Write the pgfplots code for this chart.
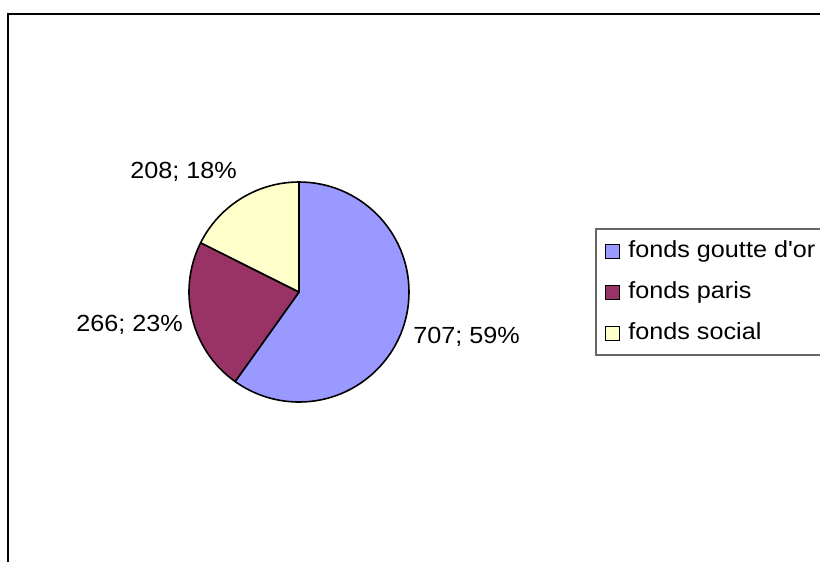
\documentclass[border=0pt]{standalone}
\usepackage{fontspec}
\usepackage{pgfplots}
\usepackage{pgfplotstable}
\pgfplotsset{compat=1.18}
\newfontfamily\arialx{Liberation Sans}[FakeStretch=1.08, Ligatures=TeXOff]
\newcommand\chartfont{\arialx\fontsize{17.5}{20}\selectfont}
\definecolor{GoutteBlue}{HTML}{9999FF}
\definecolor{ParisPlum}{HTML}{993366}
\definecolor{SocialCream}{HTML}{FFFFCC}

\pgfplotstableread[col sep=comma]{
name,value
fonds goutte d'or,707
fonds paris,266
fonds social,208
}\pietable

% one slice: start angle, end angle, colour
\newcommand\pieslice[3]{%
  \filldraw[fill=#3, draw=black, line width=1.2pt, line join=round]
    (axis cs:299,292) -- ++(#1:82.5pt) arc[start angle=#1, end angle=#2, radius=82.5pt] -- cycle;}

\begin{document}
\pgfplotstablegetelem{0}{value}\of\pietable \pgfmathsetmacro\va{\pgfplotsretval}%
\pgfplotstablegetelem{1}{value}\of\pietable \pgfmathsetmacro\vb{\pgfplotsretval}%
\pgfplotstablegetelem{2}{value}\of\pietable \pgfmathsetmacro\vc{\pgfplotsretval}%
\pgfmathsetmacro\tot{\va+\vb+\vc}%
\pgfmathsetmacro\aA{90}%
\pgfmathsetmacro\aB{\aA-360*(\va/\tot)}%
\pgfmathsetmacro\aC{\aB-360*(\vb/\tot)}%
\pgfmathsetmacro\aD{\aC-360*(\vc/\tot)}%
\raisebox{0pt}[421.5pt][0pt]{%
\begin{tikzpicture}[baseline=0pt, trim left=0pt, trim right=615pt]
\begin{axis}[
    x=0.75pt, y=0.75pt, y dir=reverse,
    xmin=0, xmax=820, ymin=0, ymax=562,
    at={(307.5pt,210.75pt)}, anchor=center,
    xtick=\empty, ytick=\empty,
    hide axis, clip=false,
    legend image code/.code={\draw[#1] (0pt,-5.25pt) rectangle (10.5pt,5.25pt);},
    legend style={
        at={(axis cs:605,229)}, anchor=north west,
        draw=none, fill=none,
        font=\chartfont,
        inner xsep=0pt, inner ysep=8.25pt,
        row sep=14.25pt,
        nodes={inner sep=0pt, text height=13pt, text depth=3.5pt},
        /tikz/every odd column/.append style={column sep=6pt},
    },
    legend cell align=left,
]
\path (axis cs:0,0) rectangle (axis cs:820,562);
% outer chart frame (its right and bottom sides lie beyond the picture)
\draw[black, line width=1.5pt] (axis cs:7.5,562) -- (axis cs:7.5,14) -- (axis cs:820,14);
% legend frame, open at the right edge
\draw[black!60, line width=0.8pt] (axis cs:820,229) -- (axis cs:596,229) -- (axis cs:596,355) -- (axis cs:820,355);

\pieslice{\aA}{\aB}{GoutteBlue}
\pieslice{\aB}{\aC}{ParisPlum}
\pieslice{\aC}{\aD}{SocialCream}

\node[font=\chartfont, anchor=base west, inner sep=0pt] at (axis cs:130,178.3) {208; 18\%};
\node[font=\chartfont, anchor=base east, inner sep=0pt] at (axis cs:183,331.7) {266; 23\%};
\node[font=\chartfont, anchor=base west, inner sep=0pt] at (axis cs:413,343.3) {707; 59\%};

\addlegendimage{fill=GoutteBlue, draw=black, line width=0.8pt}
\addlegendimage{fill=ParisPlum, draw=black, line width=0.8pt}
\addlegendimage{fill=SocialCream, draw=black, line width=0.8pt}
\legend{fonds goutte d'or, fonds paris, fonds social}
\end{axis}
\end{tikzpicture}}%
\end{document}
